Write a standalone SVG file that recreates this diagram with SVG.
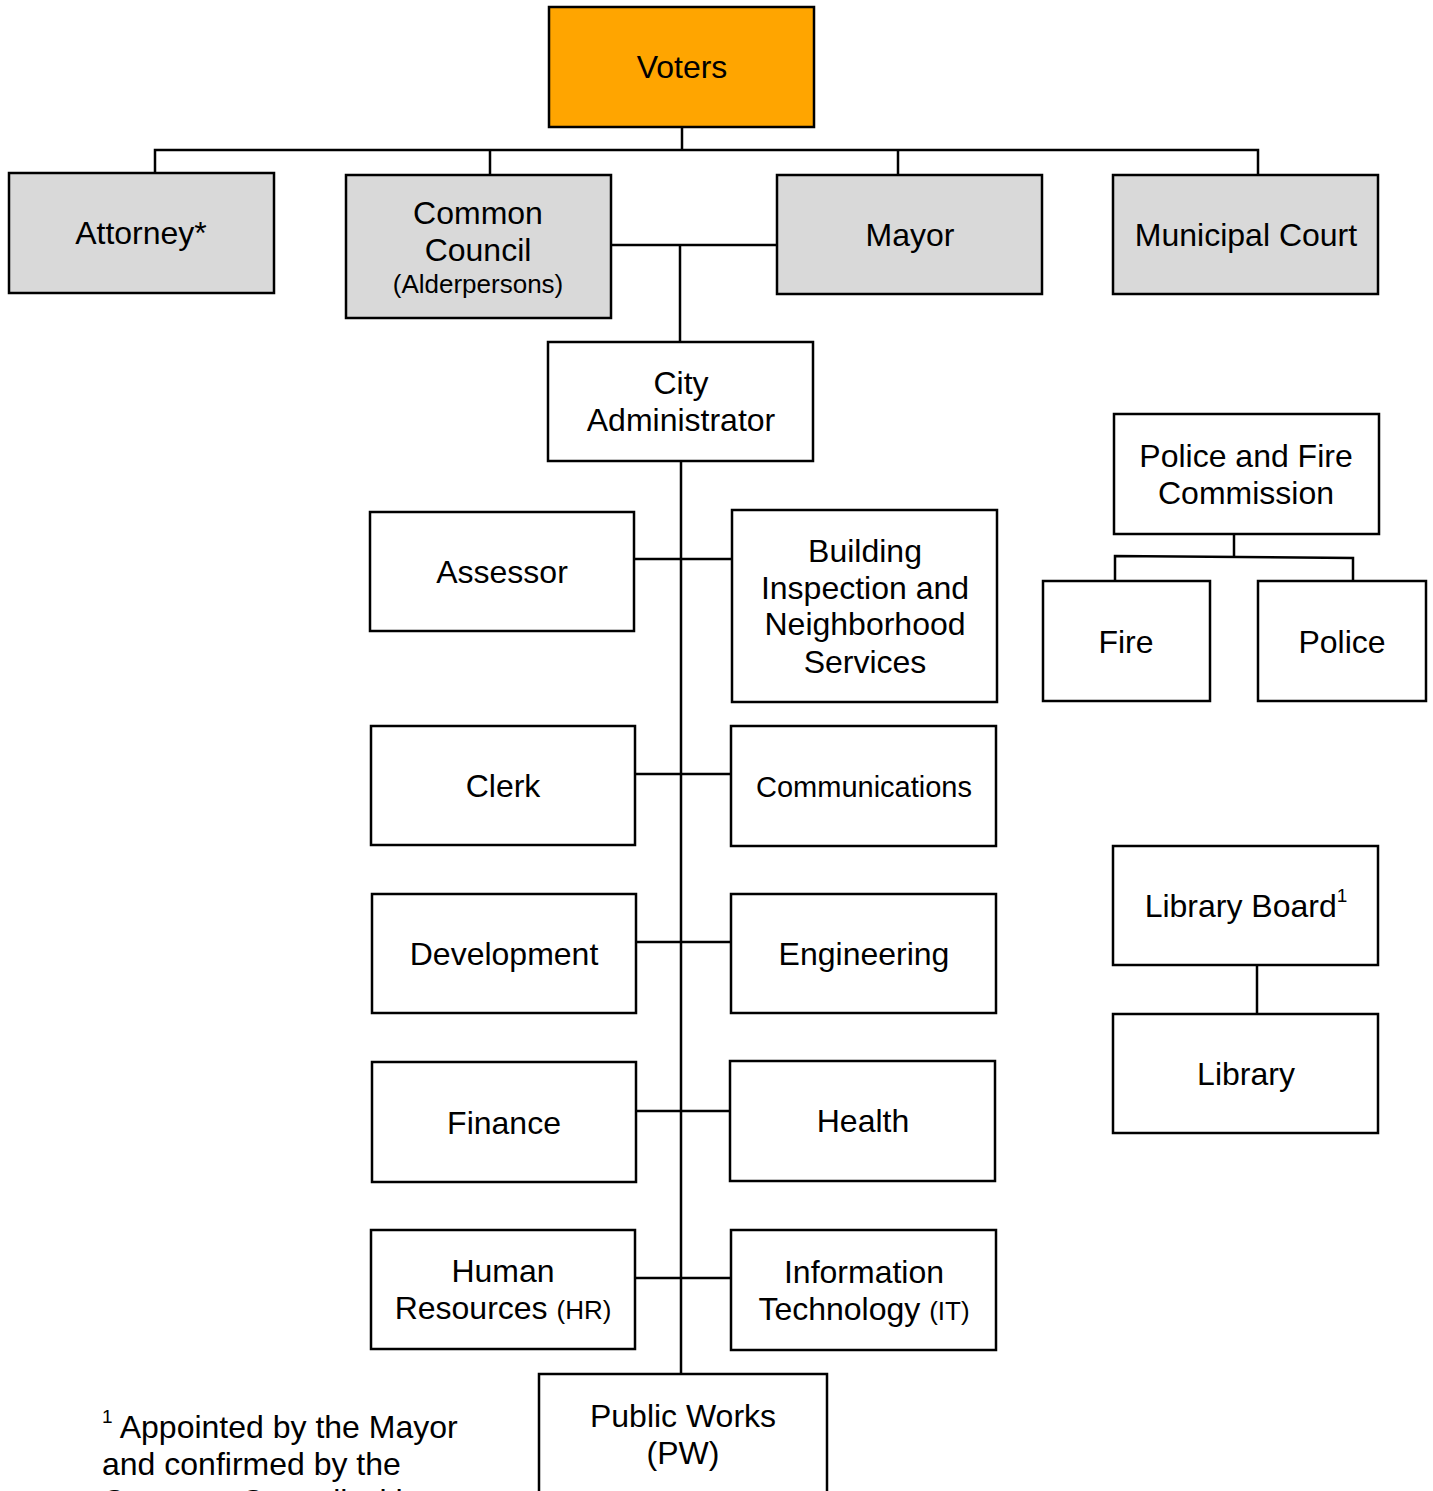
<svg xmlns="http://www.w3.org/2000/svg" width="1433" height="1491" viewBox="0 0 1433 1491">
<style>
.box{fill:#FFFFFF;stroke:#000;stroke-width:2.5}
.grey{fill:#D9D9D9}
.orange{fill:#FFA500}
.t{font-family:"Liberation Sans",Arial,sans-serif;font-size:32px;fill:#000;text-anchor:middle}
.s{font-size:26px}
.c{font-size:29px}
.ft{font-family:"Liberation Sans",Arial,sans-serif;font-size:32px;fill:#000}
#connectors line,#connectors polyline{stroke:#000;stroke-width:2.5;fill:none}
</style>
<rect width="1433" height="1491" fill="#FFFFFF"/>
<g id="connectors">
<line x1="682" y1="127" x2="682" y2="150"/>
<polyline points="155,173 155,150 1258,150 1258,175"/>
<line x1="490" y1="150" x2="490" y2="175"/>
<line x1="898" y1="150" x2="898" y2="175"/>
<line x1="611" y1="245" x2="777" y2="245"/>
<line x1="680" y1="245" x2="680" y2="342"/>
<line x1="681" y1="461" x2="681" y2="1374"/>
<line x1="634" y1="559" x2="732" y2="559"/>
<line x1="635" y1="774" x2="731" y2="774"/>
<line x1="636" y1="942" x2="731" y2="942"/>
<line x1="636" y1="1111" x2="730" y2="1111"/>
<line x1="635" y1="1278" x2="731" y2="1278"/>
<line x1="1234" y1="534" x2="1234" y2="556"/>
<polyline points="1115,581 1115,556 1353,558 1353,581"/>
<line x1="1257" y1="965" x2="1257" y2="1014"/>
</g>
<g id="voters"><rect class="box orange" x="549" y="7" width="265" height="120"/><text class="t" x="682" y="78">Voters</text></g>
<g id="attorney"><rect class="box grey" x="9" y="173" width="265" height="120"/><text class="t" x="141" y="244">Attorney*</text></g>
<g id="council"><rect class="box grey" x="346" y="175" width="265" height="143"/><text class="t" x="478" y="224">Common</text><text class="t" x="478" y="261">Council</text><text class="t s" x="478" y="293">(Alderpersons)</text></g>
<g id="mayor"><rect class="box grey" x="777" y="175" width="265" height="119"/><text class="t" x="910" y="246">Mayor</text></g>
<g id="court"><rect class="box grey" x="1113" y="175" width="265" height="119"/><text class="t" x="1246" y="246">Municipal Court</text></g>
<g id="admin"><rect class="box" x="548" y="342" width="265" height="119"/><text class="t" x="681" y="394">City</text><text class="t" x="681" y="431">Administrator</text></g>
<g id="assessor"><rect class="box" x="370" y="512" width="264" height="119"/><text class="t" x="502" y="583">Assessor</text></g>
<g id="building"><rect class="box" x="732" y="510" width="265" height="192"/><text class="t" x="865" y="562">Building</text><text class="t" x="865" y="599">Inspection and</text><text class="t" x="865" y="635">Neighborhood</text><text class="t" x="865" y="673">Services</text></g>
<g id="clerk"><rect class="box" x="371" y="726" width="264" height="119"/><text class="t" x="503" y="797">Clerk</text></g>
<g id="communications"><rect class="box" x="731" y="726" width="265" height="120"/><text class="t c" x="864" y="797">Communications</text></g>
<g id="development"><rect class="box" x="372" y="894" width="264" height="119"/><text class="t" x="504" y="965">Development</text></g>
<g id="engineering"><rect class="box" x="731" y="894" width="265" height="119"/><text class="t" x="864" y="965">Engineering</text></g>
<g id="finance"><rect class="box" x="372" y="1062" width="264" height="120"/><text class="t" x="504" y="1134">Finance</text></g>
<g id="health"><rect class="box" x="730" y="1061" width="265" height="120"/><text class="t" x="863" y="1132">Health</text></g>
<g id="hr"><rect class="box" x="371" y="1230" width="264" height="119"/><text class="t" x="503" y="1282">Human</text><text class="t" x="503" y="1319">Resources <tspan class="s">(HR)</tspan></text></g>
<g id="it"><rect class="box" x="731" y="1230" width="265" height="120"/><text class="t" x="864" y="1283">Information</text><text class="t" x="864" y="1320">Technology <tspan class="s">(IT)</tspan></text></g>
<g id="publicworks"><rect class="box" x="539" y="1374" width="288" height="140"/><text class="t" x="683" y="1427">Public Works</text><text class="t" x="683" y="1464">(PW)</text></g>
<g id="pfc"><rect class="box" x="1114" y="414" width="265" height="120"/><text class="t" x="1246" y="467">Police and Fire</text><text class="t" x="1246" y="504">Commission</text></g>
<g id="fire"><rect class="box" x="1043" y="581" width="167" height="120"/><text class="t" x="1126" y="653">Fire</text></g>
<g id="police"><rect class="box" x="1258" y="581" width="168" height="120"/><text class="t" x="1342" y="653">Police</text></g>
<g id="libraryboard"><rect class="box" x="1113" y="846" width="265" height="119"/><text class="t" x="1246" y="917">Library Board<tspan font-size="19" dy="-15">1</tspan></text></g>
<g id="library"><rect class="box" x="1113" y="1014" width="265" height="119"/><text class="t" x="1246" y="1085">Library</text></g>
<g id="footnote">
<text class="ft" x="102" y="1438"><tspan font-size="19" dy="-15">1</tspan><tspan dy="15"> Appointed by the Mayor</tspan></text>
<text class="ft" x="102" y="1475">and confirmed by the</text>
<text class="ft" x="102" y="1512">Common Council with</text>
</g>
</svg>
